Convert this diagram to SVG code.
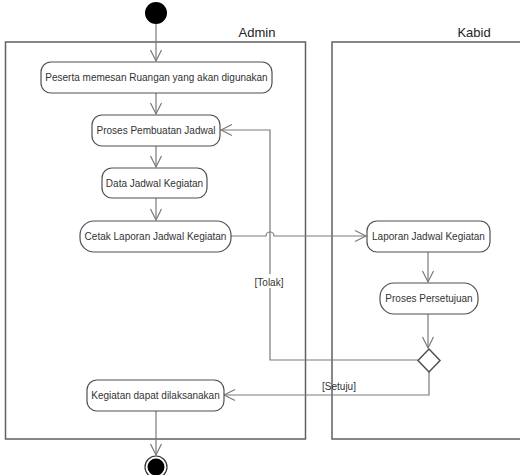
<svg xmlns="http://www.w3.org/2000/svg" width="520" height="475" viewBox="0 0 520 475">
<style>
.lane{fill:none;stroke:#606060;stroke-width:1.5}
.lt{font-family:"Liberation Sans",Arial,sans-serif;font-size:13px;fill:#222;text-anchor:middle}
.node{fill:#fff;stroke:#505050;stroke-width:1.2}
.nt{font-family:"Liberation Sans",Arial,sans-serif;font-size:10px;fill:#333;text-anchor:middle}
.c{fill:none;stroke:#7a7a7a;stroke-width:1.2}
.gl{font-family:"Liberation Sans",Arial,sans-serif;font-size:10px;fill:#333;text-anchor:middle}
</style>
<defs>
<marker id="ah" markerUnits="userSpaceOnUse" markerWidth="14" markerHeight="14" viewBox="0 0 14 14" refX="12" refY="7" orient="auto">
<path d="M1,1.5 L12,7 L1,12.5" fill="none" stroke="#7a7a7a" stroke-width="1.2"/>
</marker>
</defs>
<rect width="520" height="475" fill="#fff"/>
<g id="lane-admin">
<rect class="lane" x="5.5" y="42" width="300" height="397"/>
<text class="lt" x="257" y="37">Admin</text>
</g>
<g id="lane-kabid">
<rect class="lane" x="332" y="42" width="200" height="397"/>
<text class="lt" x="474" y="37">Kabid</text>
</g>
<g id="connectors">
<path class="c" d="M156,24 V61" marker-end="url(#ah)"/>
<path class="c" d="M156,93 V114" marker-end="url(#ah)"/>
<path class="c" d="M156,146 V167" marker-end="url(#ah)"/>
<path class="c" d="M156,198 V220" marker-end="url(#ah)"/>
<path class="c" d="M231,236 H266 A4,4 0 0 1 274,236 H366" marker-end="url(#ah)"/>
<path class="c" d="M428,252 V282" marker-end="url(#ah)"/>
<path class="c" d="M428,314 V348" marker-end="url(#ah)"/>
<path class="c" d="M418,360 H270 V130 H221" marker-end="url(#ah)"/>
<path class="c" d="M429,372 V395 H224" marker-end="url(#ah)"/>
<path class="c" d="M156,411 V455" marker-end="url(#ah)"/>
<rect x="252" y="274" width="34" height="14" fill="#fff"/>
<text class="gl" x="269" y="286">[Tolak]</text>
<text class="gl" x="339" y="390">[Setuju]</text>
</g>
<g id="start"><circle cx="156" cy="13" r="11" fill="#000"/></g>
<g id="n1">
<rect class="node" x="41" y="62" width="231" height="31" rx="10"/>
<text class="nt" x="156.5" y="81">Peserta memesan Ruangan yang akan digunakan</text>
</g>
<g id="n2">
<rect class="node" x="92" y="115" width="128" height="31" rx="10"/>
<text class="nt" x="156" y="134">Proses Pembuatan Jadwal</text>
</g>
<g id="n3">
<rect class="node" x="102" y="168" width="105" height="30" rx="10"/>
<text class="nt" x="154.5" y="187">Data Jadwal Kegiatan</text>
</g>
<g id="n4">
<rect class="node" x="80" y="221" width="151" height="31" rx="14"/>
<text class="nt" x="155.5" y="240">Cetak Laporan Jadwal Kegiatan</text>
</g>
<g id="n5">
<rect class="node" x="367" y="221" width="123" height="31" rx="10"/>
<text class="nt" x="428.5" y="240">Laporan Jadwal Kegiatan</text>
</g>
<g id="n6">
<rect class="node" x="380" y="283" width="98" height="31" rx="14"/>
<text class="nt" x="429" y="302">Proses Persetujuan</text>
</g>
<g id="decision">
<path d="M429,349 L440,360.5 L429,372 L418,360.5 Z" fill="#fff" stroke="#505050" stroke-width="1.5"/>
</g>
<g id="n7">
<rect class="node" x="87" y="380" width="137" height="31" rx="10"/>
<text class="nt" x="155.5" y="399">Kegiatan dapat dilaksanakan</text>
</g>
<g id="end">
<circle cx="156" cy="467" r="11" fill="#fff" stroke="#333" stroke-width="1.2"/>
<circle cx="156" cy="467" r="8.5" fill="#000"/>
</g>
</svg>
